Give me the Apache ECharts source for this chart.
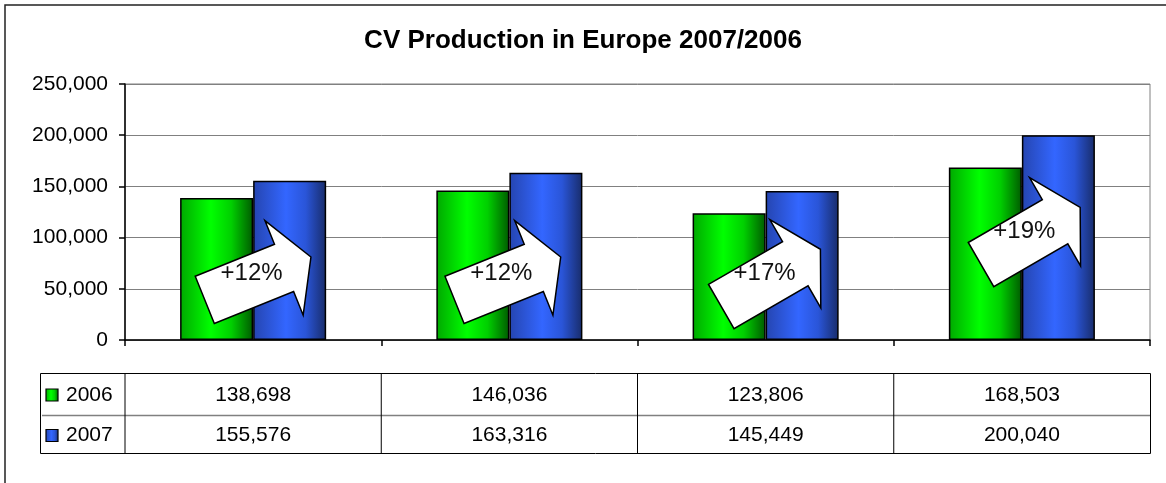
<!DOCTYPE html>
<html>
<head>
<meta charset="utf-8">
<title>CV Production in Europe 2007/2006</title>
<script src="https://cdn.jsdelivr.net/npm/echarts@6/dist/echarts.min.js"></script>
<style>
html,body{margin:0;padding:0;background:#fff;}
#cvChart{width:1166px;height:483px;}
</style>
</head>
<body>
<div id="cvChart"></div>
<script>
//数据------------------------------------------
var categories=['c1','c2','c3','c4'];
var seriesNames=['2006','2007'];
var data2006=[138698,146036,123806,168503];
var data2007=[155576,163316,145449,200040];
var growthLabels=['+12%','+12%','+17%','+19%'];
var yTicks=[0,50000,100000,150000,200000,250000];

var FONT='"Liberation Sans", Arial, sans-serif';

//千分位
function fmt(v){
    return String(v).replace(/\B(?=(\d{3})+(?!\d))/g, ',');
}

//柱子渐变
function barGrad(c){
    return new echarts.graphic.LinearGradient(0,0,1,0,c);
}
var greenStops=[{offset:0,color:'#00a800'},{offset:0.42,color:'#00ff00'},{offset:0.7,color:'#00d000'},{offset:1,color:'#005a00'}];
var blueStops=[{offset:0,color:'#2545b0'},{offset:0.45,color:'#3366ff'},{offset:0.72,color:'#2a55d8'},{offset:1,color:'#182c6a'}];

//箭头形状(朝右, 以中心为原点)
var arrowShape=[[-57,-25.5],[28.5,-25.5],[28.5,-51],[57.5,0],[28.5,51],[28.5,25.5],[-57,25.5]];
//箭头位置
var arrowLayout=[
    {dx:4.5, v:60000, rot:22},
    {dx:-2, v:60000, rot:22},
    {dx:5, v:60500, rot:30},
    {dx:8.5, v:101500, rot:30}
];

//表格
var TABLE_LEFT=40, TABLE_RIGHT=1150, TABLE_TOP=373.5, TABLE_MID=415.5, TABLE_BOTTOM=453.5;
var ROW_Y=[395, 435.5];

function cvChart(){
    var myChart=echarts.init(document.getElementById('cvChart'));
    var option={
        animation:false,
        title:{
            text:'CV Production in Europe 2007/2006',
            left:'center',
            top:23,
            textStyle:{fontFamily:FONT, fontSize:26, fontWeight:'bold', color:'#000'}
        },
        grid:{
            left:125, right:16, top:84, bottom:143,
            show:true, borderColor:'#808080', borderWidth:1,
            outerBoundsMode:'none'
        },
        xAxis:{
            type:'category',
            data:categories,
            axisLine:{lineStyle:{color:'#000', width:1.5}},
            axisTick:{show:true, length:6, lineStyle:{color:'#000', width:1.5}},
            axisLabel:{show:false}
        },
        yAxis:{
            type:'value',
            min:yTicks[0],
            max:yTicks[yTicks.length-1],
            interval:yTicks[1]-yTicks[0],
            axisLine:{show:true, lineStyle:{color:'#000', width:1.5}},
            axisTick:{show:true, length:6, lineStyle:{color:'#000', width:1.5}},
            axisLabel:{
                margin:17, color:'#000', fontFamily:FONT, fontSize:21,
                formatter:function(v){return fmt(v);}
            },
            splitLine:{lineStyle:{color:'#808080', width:1}}
        },
        series:[
            {
                name:seriesNames[0],
                type:'bar',
                data:data2006,
                barWidth:'28.5%',
                barGap:'0%',
                itemStyle:{color:barGrad(greenStops), borderColor:'#000', borderWidth:1.5}
            },
            {
                name:seriesNames[1],
                type:'bar',
                data:data2007,
                barWidth:'28.5%',
                barGap:'0%',
                itemStyle:{color:barGrad(blueStops), borderColor:'#000', borderWidth:1.5}
            },
            {
                //增长箭头
                type:'custom',
                z:10,
                silent:true,
                data:growthLabels.map(function(t,i){return [i,0];}),
                encode:{x:0,y:1},
                renderItem:function(params, api){
                    var i=params.dataIndex;
                    var lay=arrowLayout[i];
                    var p=api.coord([api.value(0), lay.v]);
                    var cx=p[0]+lay.dx, cy=p[1];
                    return {
                        type:'group',
                        children:[
                            {
                                type:'polygon',
                                x:cx, y:cy,
                                rotation:lay.rot*Math.PI/180,
                                shape:{points:arrowShape},
                                style:{fill:'#fff', stroke:'#000', lineWidth:1.5}
                            },
                            {
                                type:'text',
                                x:cx-6, y:cy-5,
                                style:{text:growthLabels[i], font:'24px '+FONT, fill:'#111', align:'center', verticalAlign:'middle'}
                            }
                        ]
                    };
                }
            },
            {
                //数据表格
                type:'custom',
                clip:false,
                silent:true,
                data:categories.map(function(c,i){return [i,0];}),
                encode:{x:0,y:1},
                renderItem:function(params, api){
                    var i=params.dataIndex;
                    var x=api.coord([api.value(0),0])[0];
                    var w=api.size([1,0])[0];
                    return {
                        type:'group',
                        children:[
                            {type:'line', shape:{x1:x-w/2, y1:TABLE_TOP, x2:x-w/2, y2:TABLE_BOTTOM}, style:{stroke:'#000', lineWidth:1}},
                            {type:'text', x:x, y:ROW_Y[0], style:{text:fmt(data2006[i]), font:'21px '+FONT, fill:'#000', align:'center', verticalAlign:'middle'}},
                            {type:'text', x:x, y:ROW_Y[1], style:{text:fmt(data2007[i]), font:'21px '+FONT, fill:'#000', align:'center', verticalAlign:'middle'}}
                        ]
                    };
                }
            }
        ],
        graphic:[
            //外框
            {type:'rect', shape:{x:5, y:5, width:1300, height:600}, style:{fill:null, stroke:'#222', lineWidth:1.5}, silent:true},
            //表格外框
            {type:'rect', shape:{x:TABLE_LEFT+0.5, y:TABLE_TOP, width:TABLE_RIGHT-TABLE_LEFT, height:TABLE_BOTTOM-TABLE_TOP}, style:{fill:null, stroke:'#000', lineWidth:1}, silent:true},
            {type:'line', shape:{x1:TABLE_LEFT+2, y1:TABLE_MID, x2:TABLE_RIGHT, y2:TABLE_MID}, style:{stroke:'#808080', lineWidth:1.5}, silent:true},
            //图例
            {type:'rect', shape:{x:46, y:ROW_Y[0]-6, width:12, height:12}, style:{fill:barGrad(greenStops), stroke:'#000', lineWidth:1.2}, silent:true},
            {type:'text', x:66, y:ROW_Y[0], style:{text:seriesNames[0], font:'21px '+FONT, fill:'#000', align:'left', verticalAlign:'middle'}, silent:true},
            {type:'rect', shape:{x:46, y:ROW_Y[1]-6, width:12, height:12}, style:{fill:barGrad(blueStops), stroke:'#000', lineWidth:1.2}, silent:true},
            {type:'text', x:66, y:ROW_Y[1], style:{text:seriesNames[1], font:'21px '+FONT, fill:'#000', align:'left', verticalAlign:'middle'}, silent:true}
        ]
    };
    myChart.setOption(option);
}

cvChart();
</script>
</body>
</html>
